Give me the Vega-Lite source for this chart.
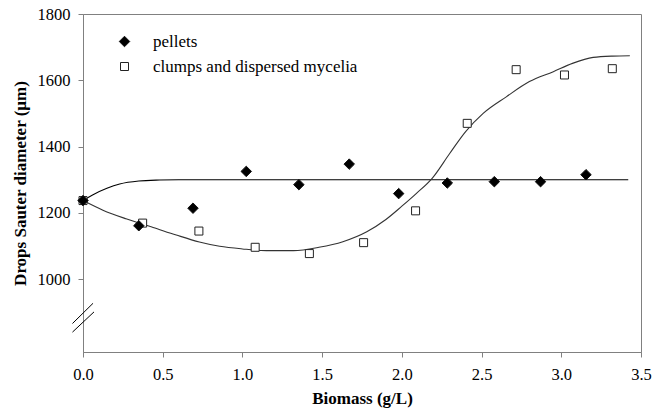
{
  "$schema": "https://vega.github.io/schema/vega-lite/v6.json",
  "width": 558,
  "height": 338,
  "autosize": {"type": "none"},
  "padding": {"left": 83, "top": 14, "right": 22, "bottom": 58},
  "config": {
    "font": "Liberation Serif",
    "style": {
      "guide-label": {"font": "Liberation Serif", "fill": "#000"},
      "guide-title": {"font": "Liberation Serif", "fill": "#000"}
    },
    "view": {"stroke": "#808080", "strokeWidth": 1},
    "axis": {
      "labelFont": "Liberation Serif", "labelFontSize": 16.5, "labelColor": "#000",
      "titleFont": "Liberation Serif", "titleFontSize": 17, "titleFontWeight": "bold", "titleColor": "#000",
      "domainColor": "#808080", "tickColor": "#808080", "tickSize": 5, "grid": false, "labelFlush": false
    },
    "legend": {
      "orient": "none", "legendX": 33, "legendY": 19, "padding": 0,
      "labelFont": "Liberation Serif", "labelFontSize": 17, "labelColor": "#000", "labelLimit": 0,
      "labelOffset": 20, "rowPadding": 7, "symbolStrokeColor": "#222", "symbolStrokeWidth": 1
    }
  },
  "datasets": {
    "points": [
      {"biomass": 0.0, "d32": 1237, "series": "clumps and dispersed mycelia"},
      {"biomass": 0.374, "d32": 1169, "series": "clumps and dispersed mycelia"},
      {"biomass": 0.727, "d32": 1145, "series": "clumps and dispersed mycelia"},
      {"biomass": 1.08, "d32": 1096, "series": "clumps and dispersed mycelia"},
      {"biomass": 1.42, "d32": 1077, "series": "clumps and dispersed mycelia"},
      {"biomass": 1.76, "d32": 1110, "series": "clumps and dispersed mycelia"},
      {"biomass": 2.086, "d32": 1206, "series": "clumps and dispersed mycelia"},
      {"biomass": 2.41, "d32": 1470, "series": "clumps and dispersed mycelia"},
      {"biomass": 2.717, "d32": 1632, "series": "clumps and dispersed mycelia"},
      {"biomass": 3.02, "d32": 1616, "series": "clumps and dispersed mycelia"},
      {"biomass": 3.32, "d32": 1635, "series": "clumps and dispersed mycelia"},
      {"biomass": 0.0, "d32": 1237, "series": "pellets"},
      {"biomass": 0.35, "d32": 1161, "series": "pellets"},
      {"biomass": 0.69, "d32": 1214, "series": "pellets"},
      {"biomass": 1.024, "d32": 1325, "series": "pellets"},
      {"biomass": 1.354, "d32": 1285, "series": "pellets"},
      {"biomass": 1.67, "d32": 1347, "series": "pellets"},
      {"biomass": 1.98, "d32": 1258, "series": "pellets"},
      {"biomass": 2.285, "d32": 1290, "series": "pellets"},
      {"biomass": 2.58, "d32": 1294, "series": "pellets"},
      {"biomass": 2.87, "d32": 1294, "series": "pellets"},
      {"biomass": 3.155, "d32": 1315, "series": "pellets"}
    ],
    "curves": [
      {"biomass": 0.0, "d32": 1237, "fit": "pellets"},
      {"biomass": 0.06, "d32": 1254, "fit": "pellets"},
      {"biomass": 0.15, "d32": 1274, "fit": "pellets"},
      {"biomass": 0.23, "d32": 1287, "fit": "pellets"},
      {"biomass": 0.35, "d32": 1296, "fit": "pellets"},
      {"biomass": 0.48, "d32": 1299, "fit": "pellets"},
      {"biomass": 0.6, "d32": 1300, "fit": "pellets"},
      {"biomass": 1.0, "d32": 1300, "fit": "pellets"},
      {"biomass": 2.0, "d32": 1300, "fit": "pellets"},
      {"biomass": 3.42, "d32": 1300, "fit": "pellets"},
      {"biomass": 0.0, "d32": 1237, "fit": "clumps"},
      {"biomass": 0.125, "d32": 1208, "fit": "clumps"},
      {"biomass": 0.27, "d32": 1182, "fit": "clumps"},
      {"biomass": 0.44, "d32": 1156, "fit": "clumps"},
      {"biomass": 0.585, "d32": 1133, "fit": "clumps"},
      {"biomass": 0.73, "d32": 1112, "fit": "clumps"},
      {"biomass": 0.857, "d32": 1099, "fit": "clumps"},
      {"biomass": 1.0, "d32": 1091, "fit": "clumps"},
      {"biomass": 1.15, "d32": 1086, "fit": "clumps"},
      {"biomass": 1.32, "d32": 1086, "fit": "clumps"},
      {"biomass": 1.48, "d32": 1096, "fit": "clumps"},
      {"biomass": 1.63, "d32": 1113, "fit": "clumps"},
      {"biomass": 1.78, "d32": 1143, "fit": "clumps"},
      {"biomass": 1.9, "d32": 1180, "fit": "clumps"},
      {"biomass": 2.0, "d32": 1220, "fit": "clumps"},
      {"biomass": 2.09, "d32": 1258, "fit": "clumps"},
      {"biomass": 2.19, "d32": 1304, "fit": "clumps"},
      {"biomass": 2.3, "d32": 1379, "fit": "clumps"},
      {"biomass": 2.4, "d32": 1445, "fit": "clumps"},
      {"biomass": 2.51, "d32": 1500, "fit": "clumps"},
      {"biomass": 2.655, "d32": 1550, "fit": "clumps"},
      {"biomass": 2.8, "d32": 1596, "fit": "clumps"},
      {"biomass": 2.95, "d32": 1626, "fit": "clumps"},
      {"biomass": 3.07, "d32": 1651, "fit": "clumps"},
      {"biomass": 3.2, "d32": 1669, "fit": "clumps"},
      {"biomass": 3.32, "d32": 1673, "fit": "clumps"},
      {"biomass": 3.43, "d32": 1674, "fit": "clumps"}
    ],
    "breaks": [
      {"x1": -0.066, "y1": 866, "x2": 0.063, "y2": 927},
      {"x1": -0.066, "y1": 840, "x2": 0.069, "y2": 901}
    ]
  },
  "layer": [
    {
      "data": {"name": "curves"},
      "mark": {"type": "line", "interpolate": "monotone", "strokeWidth": 1.1},
      "encoding": {
        "x": {"field": "biomass", "type": "quantitative", "scale": {"domain": [0, 3.5], "nice": false},
              "axis": {"values": [0, 0.5, 1, 1.5, 2, 2.5, 3, 3.5], "format": ".1f", "title": "Biomass (g/L)", "labelPadding": 9, "titlePadding": 8}},
        "y": {"field": "d32", "type": "quantitative", "scale": {"domain": [780, 1800], "nice": false, "zero": false},
              "axis": {"values": [1000, 1200, 1400, 1600, 1800], "format": "d", "title": "Drops Sauter diameter (µm)", "labelPadding": 8, "titlePadding": 8}},
        "detail": {"field": "fit"},
        "color": {"field": "fit", "type": "nominal", "scale": {"domain": ["pellets", "clumps"], "range": ["#000000", "#333333"]}, "legend": null}
      }
    },
    {
      "data": {"name": "breaks"},
      "mark": {"type": "rule", "color": "#000", "strokeWidth": 1},
      "encoding": {
        "x": {"field": "x1", "type": "quantitative"},
        "y": {"field": "y1", "type": "quantitative"},
        "x2": {"field": "x2"},
        "y2": {"field": "y2"}
      }
    },
    {
      "data": {"name": "points"},
      "mark": {"type": "point", "filled": true, "opacity": 1, "strokeWidth": 1},
      "encoding": {
        "x": {"field": "biomass", "type": "quantitative"},
        "y": {"field": "d32", "type": "quantitative"},
        "shape": {"field": "series", "type": "nominal", "title": null,
                  "scale": {"domain": ["pellets", "clumps and dispersed mycelia"], "range": ["diamond", "square"]}},
        "fill": {"field": "series", "type": "nominal", "title": null,
                 "scale": {"domain": ["pellets", "clumps and dispersed mycelia"], "range": ["#000000", "#ffffff"]}},
        "stroke": {"field": "series", "type": "nominal", "title": null,
                 "scale": {"domain": ["pellets", "clumps and dispersed mycelia"], "range": ["#111111", "#222222"]}},
        "size": {"field": "series", "type": "nominal", "title": null,
                 "scale": {"domain": ["pellets", "clumps and dispersed mycelia"], "range": [110, 64]}}
      }
    }
  ]
}
